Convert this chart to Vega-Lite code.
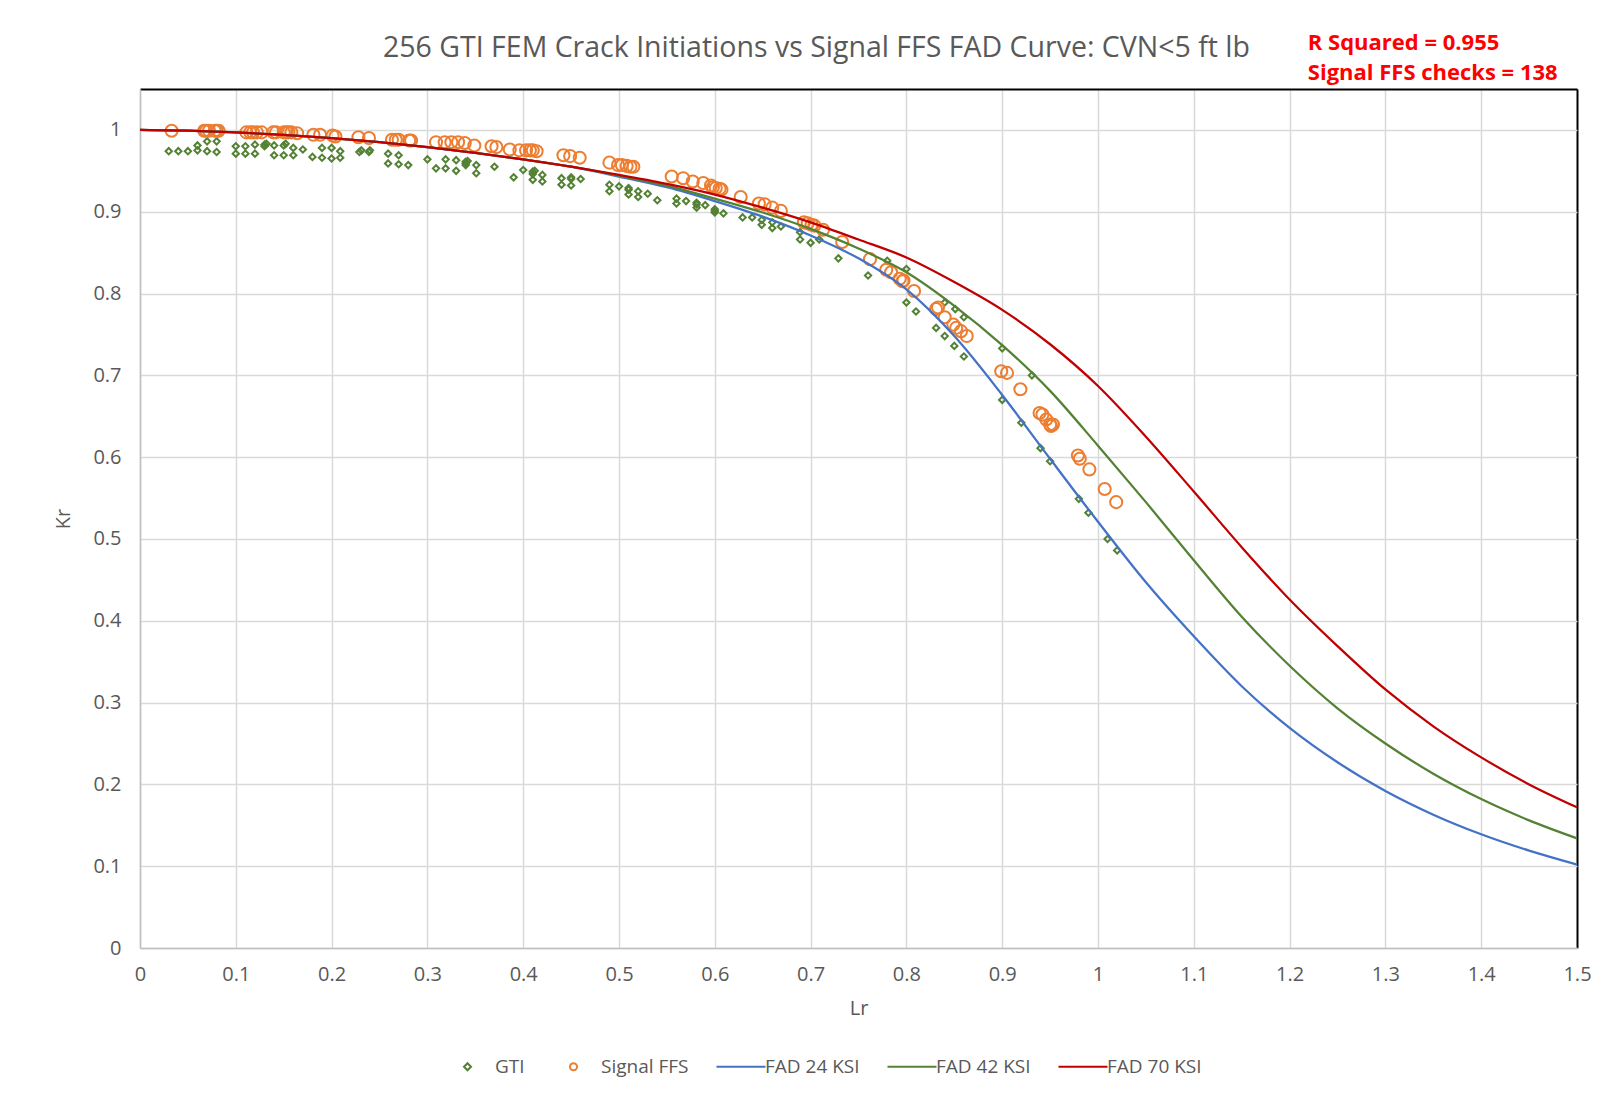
{
"$schema":"https://vega.github.io/schema/vega-lite/v6.json",
"width":1437,"height":859,
"autosize":{"type":"none"},
"padding":{"left":140,"top":89,"right":29,"bottom":146},
"background":"white",
"title":{"text":"256 GTI FEM Crack Initiations vs Signal FFS FAD Curve: CVN<5 ft lb","font":"Open Sans","fontSize":28.5,"fontWeight":"normal","color":"#595959","anchor":"middle","dx":-42,"dy":48,"offset":18},
"config":{"view":{"stroke":null},
 "axis":{"grid":true,"gridWidth":1.5,"ticks":false,"domainColor":"#bfbfbf","domainWidth":1.5,"labelFont":"Open Sans","labelFontSize":20,"labelColor":"#595959","titleFont":"Open Sans","titleFontSize":20,"titleFontWeight":"normal","titleColor":"#595959","labelFlush":false,"labelOverlap":false,"labelBound":false}},
"datasets":{
"pts":[
{"series":"GTI","Lr":0.030,"Kr":0.974},{"series":"GTI","Lr":0.040,"Kr":0.974},{"series":"GTI","Lr":0.050,"Kr":0.974},{"series":"GTI","Lr":0.060,"Kr":0.981},{"series":"GTI","Lr":0.060,"Kr":0.975},{"series":"GTI","Lr":0.070,"Kr":0.986},{"series":"GTI","Lr":0.070,"Kr":0.974},{"series":"GTI","Lr":0.080,"Kr":0.986},{"series":"GTI","Lr":0.080,"Kr":0.973},
{"series":"GTI","Lr":0.100,"Kr":0.980},{"series":"GTI","Lr":0.100,"Kr":0.971},{"series":"GTI","Lr":0.110,"Kr":0.980},{"series":"GTI","Lr":0.110,"Kr":0.971},{"series":"GTI","Lr":0.120,"Kr":0.982},{"series":"GTI","Lr":0.120,"Kr":0.971},{"series":"GTI","Lr":0.130,"Kr":0.982},{"series":"GTI","Lr":0.130,"Kr":0.980},{"series":"GTI","Lr":0.132,"Kr":0.983},{"series":"GTI","Lr":0.140,"Kr":0.981},{"series":"GTI","Lr":0.140,"Kr":0.969},{"series":"GTI","Lr":0.150,"Kr":0.981},{"series":"GTI","Lr":0.150,"Kr":0.969},{"series":"GTI","Lr":0.152,"Kr":0.983},{"series":"GTI","Lr":0.160,"Kr":0.978},{"series":"GTI","Lr":0.160,"Kr":0.969},{"series":"GTI","Lr":0.170,"Kr":0.976},
{"series":"GTI","Lr":0.180,"Kr":0.967},{"series":"GTI","Lr":0.190,"Kr":0.978},{"series":"GTI","Lr":0.190,"Kr":0.966},{"series":"GTI","Lr":0.200,"Kr":0.978},{"series":"GTI","Lr":0.200,"Kr":0.965},{"series":"GTI","Lr":0.209,"Kr":0.974},{"series":"GTI","Lr":0.209,"Kr":0.966},{"series":"GTI","Lr":0.229,"Kr":0.973},{"series":"GTI","Lr":0.231,"Kr":0.975},{"series":"GTI","Lr":0.239,"Kr":0.973},{"series":"GTI","Lr":0.240,"Kr":0.975},
{"series":"GTI","Lr":0.259,"Kr":0.971},{"series":"GTI","Lr":0.259,"Kr":0.959},{"series":"GTI","Lr":0.270,"Kr":0.969},{"series":"GTI","Lr":0.270,"Kr":0.958},{"series":"GTI","Lr":0.280,"Kr":0.957},{"series":"GTI","Lr":0.300,"Kr":0.964},{"series":"GTI","Lr":0.309,"Kr":0.953},
{"series":"GTI","Lr":0.319,"Kr":0.964},{"series":"GTI","Lr":0.319,"Kr":0.953},{"series":"GTI","Lr":0.330,"Kr":0.963},{"series":"GTI","Lr":0.330,"Kr":0.950},{"series":"GTI","Lr":0.340,"Kr":0.961},{"series":"GTI","Lr":0.340,"Kr":0.959},{"series":"GTI","Lr":0.342,"Kr":0.962},{"series":"GTI","Lr":0.340,"Kr":0.957},{"series":"GTI","Lr":0.351,"Kr":0.957},{"series":"GTI","Lr":0.351,"Kr":0.947},{"series":"GTI","Lr":0.370,"Kr":0.955},
{"series":"GTI","Lr":0.390,"Kr":0.942},{"series":"GTI","Lr":0.400,"Kr":0.951},{"series":"GTI","Lr":0.410,"Kr":0.949},{"series":"GTI","Lr":0.410,"Kr":0.946},{"series":"GTI","Lr":0.412,"Kr":0.950},{"series":"GTI","Lr":0.410,"Kr":0.939},{"series":"GTI","Lr":0.420,"Kr":0.945},{"series":"GTI","Lr":0.420,"Kr":0.937},
{"series":"GTI","Lr":0.440,"Kr":0.941},{"series":"GTI","Lr":0.440,"Kr":0.933},{"series":"GTI","Lr":0.450,"Kr":0.942},{"series":"GTI","Lr":0.450,"Kr":0.940},{"series":"GTI","Lr":0.450,"Kr":0.932},{"series":"GTI","Lr":0.460,"Kr":0.940},
{"series":"GTI","Lr":0.490,"Kr":0.933},{"series":"GTI","Lr":0.490,"Kr":0.925},{"series":"GTI","Lr":0.500,"Kr":0.931},{"series":"GTI","Lr":0.510,"Kr":0.929},{"series":"GTI","Lr":0.510,"Kr":0.927},{"series":"GTI","Lr":0.510,"Kr":0.921},{"series":"GTI","Lr":0.520,"Kr":0.925},{"series":"GTI","Lr":0.520,"Kr":0.918},{"series":"GTI","Lr":0.530,"Kr":0.922},{"series":"GTI","Lr":0.540,"Kr":0.914},
{"series":"GTI","Lr":0.560,"Kr":0.916},{"series":"GTI","Lr":0.560,"Kr":0.910},{"series":"GTI","Lr":0.570,"Kr":0.913},{"series":"GTI","Lr":0.581,"Kr":0.911},{"series":"GTI","Lr":0.581,"Kr":0.909},{"series":"GTI","Lr":0.581,"Kr":0.905},{"series":"GTI","Lr":0.590,"Kr":0.908},{"series":"GTI","Lr":0.600,"Kr":0.903},{"series":"GTI","Lr":0.600,"Kr":0.901},{"series":"GTI","Lr":0.600,"Kr":0.899},{"series":"GTI","Lr":0.609,"Kr":0.898},
{"series":"GTI","Lr":0.629,"Kr":0.893},{"series":"GTI","Lr":0.639,"Kr":0.893},{"series":"GTI","Lr":0.649,"Kr":0.890},{"series":"GTI","Lr":0.649,"Kr":0.884},{"series":"GTI","Lr":0.660,"Kr":0.887},{"series":"GTI","Lr":0.660,"Kr":0.880},{"series":"GTI","Lr":0.669,"Kr":0.882},{"series":"GTI","Lr":0.689,"Kr":0.875},{"series":"GTI","Lr":0.689,"Kr":0.866},{"series":"GTI","Lr":0.700,"Kr":0.862},{"series":"GTI","Lr":0.709,"Kr":0.866},
{"series":"GTI","Lr":0.729,"Kr":0.843},{"series":"GTI","Lr":0.760,"Kr":0.822},{"series":"GTI","Lr":0.780,"Kr":0.840},{"series":"GTI","Lr":0.800,"Kr":0.830},{"series":"GTI","Lr":0.800,"Kr":0.789},{"series":"GTI","Lr":0.810,"Kr":0.778},{"series":"GTI","Lr":0.831,"Kr":0.758},{"series":"GTI","Lr":0.840,"Kr":0.748},{"series":"GTI","Lr":0.840,"Kr":0.789},{"series":"GTI","Lr":0.851,"Kr":0.781},{"series":"GTI","Lr":0.860,"Kr":0.771},{"series":"GTI","Lr":0.850,"Kr":0.736},{"series":"GTI","Lr":0.860,"Kr":0.723},
{"series":"GTI","Lr":0.900,"Kr":0.733},{"series":"GTI","Lr":0.931,"Kr":0.700},{"series":"GTI","Lr":0.900,"Kr":0.670},{"series":"GTI","Lr":0.920,"Kr":0.642},{"series":"GTI","Lr":0.940,"Kr":0.611},{"series":"GTI","Lr":0.950,"Kr":0.595},{"series":"GTI","Lr":0.980,"Kr":0.549},{"series":"GTI","Lr":0.990,"Kr":0.532},{"series":"GTI","Lr":1.010,"Kr":0.500},{"series":"GTI","Lr":1.020,"Kr":0.486},
{"series":"Signal FFS","Lr":0.033,"Kr":0.999},{"series":"Signal FFS","Lr":0.067,"Kr":0.999},{"series":"Signal FFS","Lr":0.069,"Kr":0.999},{"series":"Signal FFS","Lr":0.072,"Kr":0.999},{"series":"Signal FFS","Lr":0.078,"Kr":0.999},{"series":"Signal FFS","Lr":0.080,"Kr":0.999},{"series":"Signal FFS","Lr":0.082,"Kr":0.999},
{"series":"Signal FFS","Lr":0.111,"Kr":0.997},{"series":"Signal FFS","Lr":0.115,"Kr":0.997},{"series":"Signal FFS","Lr":0.118,"Kr":0.997},{"series":"Signal FFS","Lr":0.122,"Kr":0.997},{"series":"Signal FFS","Lr":0.127,"Kr":0.997},{"series":"Signal FFS","Lr":0.139,"Kr":0.997},{"series":"Signal FFS","Lr":0.142,"Kr":0.997},{"series":"Signal FFS","Lr":0.150,"Kr":0.997},{"series":"Signal FFS","Lr":0.153,"Kr":0.997},{"series":"Signal FFS","Lr":0.155,"Kr":0.997},{"series":"Signal FFS","Lr":0.158,"Kr":0.997},{"series":"Signal FFS","Lr":0.164,"Kr":0.996},
{"series":"Signal FFS","Lr":0.181,"Kr":0.994},{"series":"Signal FFS","Lr":0.188,"Kr":0.994},{"series":"Signal FFS","Lr":0.201,"Kr":0.993},{"series":"Signal FFS","Lr":0.204,"Kr":0.992},{"series":"Signal FFS","Lr":0.228,"Kr":0.991},{"series":"Signal FFS","Lr":0.239,"Kr":0.990},{"series":"Signal FFS","Lr":0.263,"Kr":0.988},{"series":"Signal FFS","Lr":0.267,"Kr":0.988},{"series":"Signal FFS","Lr":0.270,"Kr":0.988},{"series":"Signal FFS","Lr":0.281,"Kr":0.987},{"series":"Signal FFS","Lr":0.283,"Kr":0.987},
{"series":"Signal FFS","Lr":0.309,"Kr":0.985},{"series":"Signal FFS","Lr":0.318,"Kr":0.985},{"series":"Signal FFS","Lr":0.325,"Kr":0.985},{"series":"Signal FFS","Lr":0.332,"Kr":0.985},{"series":"Signal FFS","Lr":0.339,"Kr":0.984},{"series":"Signal FFS","Lr":0.349,"Kr":0.981},{"series":"Signal FFS","Lr":0.367,"Kr":0.980},{"series":"Signal FFS","Lr":0.372,"Kr":0.979},{"series":"Signal FFS","Lr":0.386,"Kr":0.976},{"series":"Signal FFS","Lr":0.396,"Kr":0.975},{"series":"Signal FFS","Lr":0.403,"Kr":0.975},{"series":"Signal FFS","Lr":0.407,"Kr":0.975},{"series":"Signal FFS","Lr":0.410,"Kr":0.975},{"series":"Signal FFS","Lr":0.414,"Kr":0.974},
{"series":"Signal FFS","Lr":0.442,"Kr":0.969},{"series":"Signal FFS","Lr":0.449,"Kr":0.968},{"series":"Signal FFS","Lr":0.459,"Kr":0.966},{"series":"Signal FFS","Lr":0.490,"Kr":0.960},{"series":"Signal FFS","Lr":0.499,"Kr":0.957},{"series":"Signal FFS","Lr":0.503,"Kr":0.957},{"series":"Signal FFS","Lr":0.508,"Kr":0.956},{"series":"Signal FFS","Lr":0.512,"Kr":0.955},{"series":"Signal FFS","Lr":0.515,"Kr":0.955},
{"series":"Signal FFS","Lr":0.555,"Kr":0.943},{"series":"Signal FFS","Lr":0.567,"Kr":0.941},{"series":"Signal FFS","Lr":0.577,"Kr":0.937},{"series":"Signal FFS","Lr":0.588,"Kr":0.935},{"series":"Signal FFS","Lr":0.596,"Kr":0.932},{"series":"Signal FFS","Lr":0.598,"Kr":0.930},{"series":"Signal FFS","Lr":0.601,"Kr":0.929},{"series":"Signal FFS","Lr":0.605,"Kr":0.928},{"series":"Signal FFS","Lr":0.607,"Kr":0.927},
{"series":"Signal FFS","Lr":0.627,"Kr":0.918},{"series":"Signal FFS","Lr":0.646,"Kr":0.910},{"series":"Signal FFS","Lr":0.652,"Kr":0.909},{"series":"Signal FFS","Lr":0.660,"Kr":0.905},{"series":"Signal FFS","Lr":0.669,"Kr":0.901},{"series":"Signal FFS","Lr":0.693,"Kr":0.887},{"series":"Signal FFS","Lr":0.697,"Kr":0.886},{"series":"Signal FFS","Lr":0.701,"Kr":0.884},{"series":"Signal FFS","Lr":0.704,"Kr":0.883},{"series":"Signal FFS","Lr":0.713,"Kr":0.878},
{"series":"Signal FFS","Lr":0.733,"Kr":0.863},{"series":"Signal FFS","Lr":0.762,"Kr":0.842},{"series":"Signal FFS","Lr":0.779,"Kr":0.829},{"series":"Signal FFS","Lr":0.784,"Kr":0.826},{"series":"Signal FFS","Lr":0.793,"Kr":0.818},{"series":"Signal FFS","Lr":0.796,"Kr":0.815},{"series":"Signal FFS","Lr":0.797,"Kr":0.816},{"series":"Signal FFS","Lr":0.808,"Kr":0.803},
{"series":"Signal FFS","Lr":0.831,"Kr":0.781},{"series":"Signal FFS","Lr":0.833,"Kr":0.783},{"series":"Signal FFS","Lr":0.840,"Kr":0.771},{"series":"Signal FFS","Lr":0.849,"Kr":0.762},{"series":"Signal FFS","Lr":0.852,"Kr":0.758},{"series":"Signal FFS","Lr":0.857,"Kr":0.754},{"series":"Signal FFS","Lr":0.863,"Kr":0.748},
{"series":"Signal FFS","Lr":0.899,"Kr":0.705},{"series":"Signal FFS","Lr":0.905,"Kr":0.703},{"series":"Signal FFS","Lr":0.919,"Kr":0.683},{"series":"Signal FFS","Lr":0.939,"Kr":0.654},{"series":"Signal FFS","Lr":0.942,"Kr":0.652},{"series":"Signal FFS","Lr":0.946,"Kr":0.646},{"series":"Signal FFS","Lr":0.950,"Kr":0.640},{"series":"Signal FFS","Lr":0.951,"Kr":0.638},{"series":"Signal FFS","Lr":0.953,"Kr":0.640},
{"series":"Signal FFS","Lr":0.979,"Kr":0.602},{"series":"Signal FFS","Lr":0.981,"Kr":0.598},{"series":"Signal FFS","Lr":0.991,"Kr":0.585},{"series":"Signal FFS","Lr":1.007,"Kr":0.561},{"series":"Signal FFS","Lr":1.019,"Kr":0.545}
],
"curves":[
{"series":"FAD 24 KSI","Lr":0,"Kr":1.0},{"series":"FAD 24 KSI","Lr":0.05,"Kr":0.999},{"series":"FAD 24 KSI","Lr":0.1,"Kr":0.997},{"series":"FAD 24 KSI","Lr":0.15,"Kr":0.994},{"series":"FAD 24 KSI","Lr":0.2,"Kr":0.990},{"series":"FAD 24 KSI","Lr":0.25,"Kr":0.985},{"series":"FAD 24 KSI","Lr":0.3,"Kr":0.979},{"series":"FAD 24 KSI","Lr":0.35,"Kr":0.972},{"series":"FAD 24 KSI","Lr":0.4,"Kr":0.964},{"series":"FAD 24 KSI","Lr":0.45,"Kr":0.955},{"series":"FAD 24 KSI","Lr":0.5,"Kr":0.943},{"series":"FAD 24 KSI","Lr":0.55,"Kr":0.930},{"series":"FAD 24 KSI","Lr":0.6,"Kr":0.913},{"series":"FAD 24 KSI","Lr":0.65,"Kr":0.894},{"series":"FAD 24 KSI","Lr":0.7,"Kr":0.871},{"series":"FAD 24 KSI","Lr":0.75,"Kr":0.843},{"series":"FAD 24 KSI","Lr":0.8,"Kr":0.805},{"series":"FAD 24 KSI","Lr":0.85,"Kr":0.748},{"series":"FAD 24 KSI","Lr":0.9,"Kr":0.676},{"series":"FAD 24 KSI","Lr":0.95,"Kr":0.598},{"series":"FAD 24 KSI","Lr":1.0,"Kr":0.521},{"series":"FAD 24 KSI","Lr":1.05,"Kr":0.447},{"series":"FAD 24 KSI","Lr":1.1,"Kr":0.381},{"series":"FAD 24 KSI","Lr":1.15,"Kr":0.320},{"series":"FAD 24 KSI","Lr":1.2,"Kr":0.269},{"series":"FAD 24 KSI","Lr":1.25,"Kr":0.227},{"series":"FAD 24 KSI","Lr":1.3,"Kr":0.192},{"series":"FAD 24 KSI","Lr":1.35,"Kr":0.163},{"series":"FAD 24 KSI","Lr":1.4,"Kr":0.139},{"series":"FAD 24 KSI","Lr":1.45,"Kr":0.119},{"series":"FAD 24 KSI","Lr":1.5,"Kr":0.102},
{"series":"FAD 42 KSI","Lr":0,"Kr":1.0},{"series":"FAD 42 KSI","Lr":0.05,"Kr":0.999},{"series":"FAD 42 KSI","Lr":0.1,"Kr":0.997},{"series":"FAD 42 KSI","Lr":0.15,"Kr":0.994},{"series":"FAD 42 KSI","Lr":0.2,"Kr":0.990},{"series":"FAD 42 KSI","Lr":0.25,"Kr":0.985},{"series":"FAD 42 KSI","Lr":0.3,"Kr":0.979},{"series":"FAD 42 KSI","Lr":0.35,"Kr":0.972},{"series":"FAD 42 KSI","Lr":0.4,"Kr":0.964},{"series":"FAD 42 KSI","Lr":0.45,"Kr":0.955},{"series":"FAD 42 KSI","Lr":0.5,"Kr":0.944},{"series":"FAD 42 KSI","Lr":0.55,"Kr":0.932},{"series":"FAD 42 KSI","Lr":0.6,"Kr":0.916},{"series":"FAD 42 KSI","Lr":0.65,"Kr":0.899},{"series":"FAD 42 KSI","Lr":0.7,"Kr":0.879},{"series":"FAD 42 KSI","Lr":0.75,"Kr":0.855},{"series":"FAD 42 KSI","Lr":0.8,"Kr":0.826},{"series":"FAD 42 KSI","Lr":0.85,"Kr":0.785},{"series":"FAD 42 KSI","Lr":0.9,"Kr":0.737},{"series":"FAD 42 KSI","Lr":0.95,"Kr":0.681},{"series":"FAD 42 KSI","Lr":1.0,"Kr":0.614},{"series":"FAD 42 KSI","Lr":1.05,"Kr":0.545},{"series":"FAD 42 KSI","Lr":1.1,"Kr":0.474},{"series":"FAD 42 KSI","Lr":1.15,"Kr":0.405},{"series":"FAD 42 KSI","Lr":1.2,"Kr":0.345},{"series":"FAD 42 KSI","Lr":1.25,"Kr":0.293},{"series":"FAD 42 KSI","Lr":1.3,"Kr":0.250},{"series":"FAD 42 KSI","Lr":1.35,"Kr":0.213},{"series":"FAD 42 KSI","Lr":1.4,"Kr":0.182},{"series":"FAD 42 KSI","Lr":1.45,"Kr":0.156},{"series":"FAD 42 KSI","Lr":1.5,"Kr":0.134},
{"series":"FAD 70 KSI","Lr":0,"Kr":1.0},{"series":"FAD 70 KSI","Lr":0.05,"Kr":0.999},{"series":"FAD 70 KSI","Lr":0.1,"Kr":0.997},{"series":"FAD 70 KSI","Lr":0.15,"Kr":0.994},{"series":"FAD 70 KSI","Lr":0.2,"Kr":0.990},{"series":"FAD 70 KSI","Lr":0.25,"Kr":0.985},{"series":"FAD 70 KSI","Lr":0.3,"Kr":0.979},{"series":"FAD 70 KSI","Lr":0.35,"Kr":0.972},{"series":"FAD 70 KSI","Lr":0.4,"Kr":0.964},{"series":"FAD 70 KSI","Lr":0.45,"Kr":0.955},{"series":"FAD 70 KSI","Lr":0.5,"Kr":0.945},{"series":"FAD 70 KSI","Lr":0.55,"Kr":0.934},{"series":"FAD 70 KSI","Lr":0.6,"Kr":0.921},{"series":"FAD 70 KSI","Lr":0.65,"Kr":0.905},{"series":"FAD 70 KSI","Lr":0.7,"Kr":0.887},{"series":"FAD 70 KSI","Lr":0.75,"Kr":0.866},{"series":"FAD 70 KSI","Lr":0.8,"Kr":0.844},{"series":"FAD 70 KSI","Lr":0.85,"Kr":0.814},{"series":"FAD 70 KSI","Lr":0.9,"Kr":0.780},{"series":"FAD 70 KSI","Lr":0.95,"Kr":0.738},{"series":"FAD 70 KSI","Lr":1.0,"Kr":0.687},{"series":"FAD 70 KSI","Lr":1.05,"Kr":0.625},{"series":"FAD 70 KSI","Lr":1.1,"Kr":0.558},{"series":"FAD 70 KSI","Lr":1.15,"Kr":0.490},{"series":"FAD 70 KSI","Lr":1.2,"Kr":0.426},{"series":"FAD 70 KSI","Lr":1.25,"Kr":0.369},{"series":"FAD 70 KSI","Lr":1.3,"Kr":0.316},{"series":"FAD 70 KSI","Lr":1.35,"Kr":0.271},{"series":"FAD 70 KSI","Lr":1.4,"Kr":0.233},{"series":"FAD 70 KSI","Lr":1.45,"Kr":0.200},{"series":"FAD 70 KSI","Lr":1.5,"Kr":0.172}
],
"notes":[{"note":"R Squared = 0.955"},{"note":"Signal FFS checks = 138"}]
},
"layer":[
 {"data":{"name":"pts"},"transform":[{"filter":"datum.series === 'GTI'"}],
  "mark":{"type":"point","filled":false,"strokeWidth":2,"size":40,"opacity":1},
  "encoding":{
   "x":{"field":"Lr","type":"quantitative","scale":{"domain":[0,1.5],"nice":false,"zero":false},
    "axis":{"values":[0,0.1,0.2,0.3,0.4,0.5,0.6,0.7,0.8,0.9,1,1.1,1.2,1.3,1.4,1.5],"format":"~g","labelPadding":16,"title":"Lr","titlePadding":14,
     "gridColor":{"condition":{"test":"datum.value > 1.49","value":"#000000"},"value":"#d9d9d9"},
     "gridWidth":{"condition":{"test":"datum.value > 1.49","value":2},"value":1.5}}},
   "y":{"field":"Kr","type":"quantitative","scale":{"domain":[0,1.05],"nice":false,"zero":false},
    "axis":{"values":[0,0.1,0.2,0.3,0.4,0.5,0.6,0.7,0.8,0.9,1,1.05],"format":"~g","labelExpr":"datum.value > 1.01 ? '' : datum.label","labelPadding":19,"title":"Kr","titlePadding":19,
     "gridColor":{"condition":{"test":"datum.value > 1.01","value":"#000000"},"value":"#d9d9d9"},
     "gridWidth":{"condition":{"test":"datum.value > 1.01","value":2},"value":1.5}}},
   "color":{"field":"series","type":"nominal","scale":{"domain":["GTI","Signal FFS","FAD 24 KSI","FAD 42 KSI","FAD 70 KSI"],"range":["#548235","#ED7D31","#4472C4","#548235","#C00000"]},
     "legend":{"orient":"none","legendX":318,"legendY":968,"direction":"horizontal","title":null,"labelFont":"Open Sans","labelFontSize":19,"labelColor":"#595959","symbolSize":49,"symbolStrokeWidth":2,"labelOffset":18,"columnPadding":23}},
   "shape":{"field":"series","type":"nominal","scale":{"domain":["GTI","Signal FFS","FAD 24 KSI","FAD 42 KSI","FAD 70 KSI"],"range":["diamond","M-6,0M1,0A1,1,0,1,1,-1,0A1,1,0,1,1,1,0Z","M-6,0H8","M-6,0H8","M-6,0H8"]},
     "legend":{"orient":"none","legendX":318,"legendY":968,"direction":"horizontal","title":null,"labelFont":"Open Sans","labelFontSize":19,"labelColor":"#595959","symbolSize":49,"symbolStrokeWidth":2,"labelOffset":18,"columnPadding":23}}
  }},
 {"data":{"name":"pts"},"transform":[{"filter":"datum.series === 'Signal FFS'"}],
  "mark":{"type":"point","filled":false,"strokeWidth":2,"size":146,"opacity":1},
  "encoding":{
   "x":{"field":"Lr","type":"quantitative"},
   "y":{"field":"Kr","type":"quantitative"},
   "color":{"field":"series","type":"nominal","legend":null},
   "shape":{"field":"series","type":"nominal","legend":null}
  }},
 {"data":{"name":"curves"},
  "mark":{"type":"line","strokeWidth":2.25,"interpolate":"monotone"},
  "encoding":{
   "x":{"field":"Lr","type":"quantitative"},
   "y":{"field":"Kr","type":"quantitative"},
   "color":{"field":"series","type":"nominal","legend":null},
   "order":{"field":"Lr","type":"quantitative"}
  }},
 {"data":{"name":"notes"},"transform":[{"filter":"datum.note === 'R Squared = 0.955'"}],
  "mark":{"type":"text","align":"left","baseline":"middle","font":"Open Sans","fontSize":22,"fontWeight":"bold","fill":"#FF0000"},
  "encoding":{"x":{"datum":1.219},"y":{"datum":1.106},"text":{"field":"note","type":"nominal"}}},
 {"data":{"name":"notes"},"transform":[{"filter":"datum.note === 'Signal FFS checks = 138'"}],
  "mark":{"type":"text","align":"left","baseline":"middle","font":"Open Sans","fontSize":22,"fontWeight":"bold","fill":"#FF0000"},
  "encoding":{"x":{"datum":1.219},"y":{"datum":1.069},"text":{"field":"note","type":"nominal"}}}
]
}
